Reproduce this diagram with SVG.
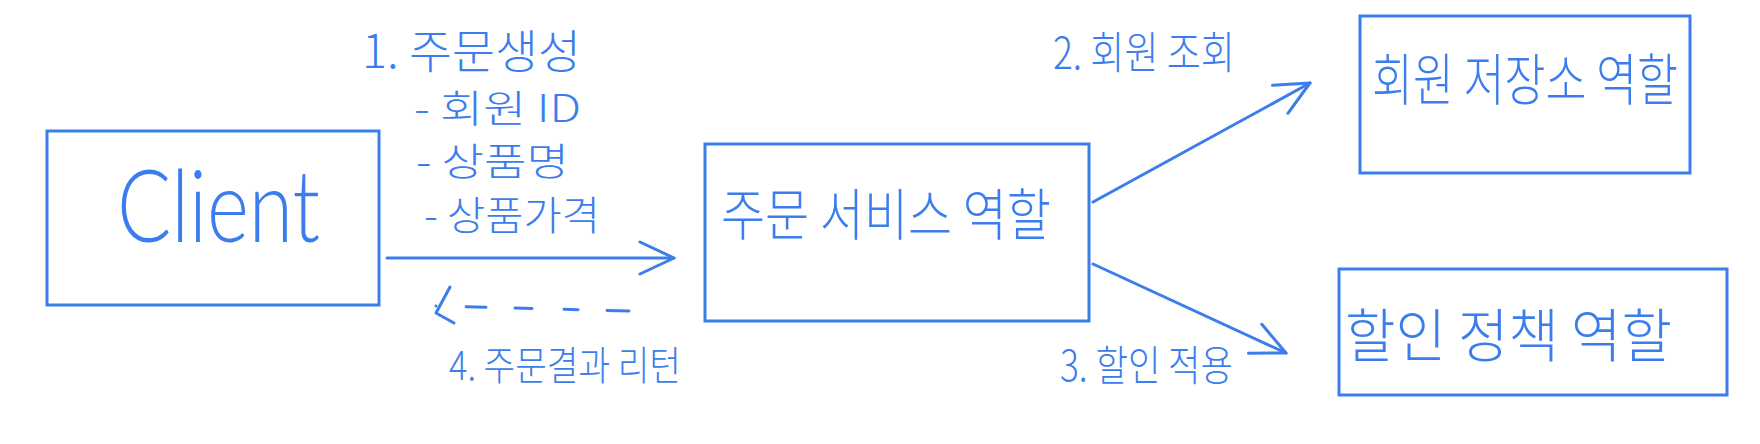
<svg xmlns="http://www.w3.org/2000/svg" width="1760" height="444" viewBox="0 0 1760 444">
<style>
.box{fill:none;stroke:#3b7ded;stroke-width:3}
.ln{fill:none;stroke:#3b7ded;stroke-width:3;stroke-linecap:round;stroke-linejoin:round}
.t{fill:#3b7ded;font-family:"Noto Sans CJK KR","Noto Sans",sans-serif;font-weight:300}
.c{fill:#3b7ded;font-family:"Lato","Open Sans","Liberation Sans",sans-serif;font-weight:300}
</style>
<defs>
<marker id="open" markerUnits="userSpaceOnUse" markerWidth="50" markerHeight="50" viewBox="-45 -25 50 50" refX="0" refY="0" orient="auto" overflow="visible">
<path d="M-34,-16 L0,0 L-34,16" fill="none" stroke="#3b7ded" stroke-width="3" stroke-linecap="round" stroke-linejoin="round"/>
</marker>
</defs>
<rect width="1760" height="444" fill="#ffffff"/>
<g id="client">
<rect class="box" x="47" y="131" width="332" height="174"/>
<text class="c" x="117" y="242" font-size="100" textLength="203" lengthAdjust="spacingAndGlyphs">Client</text>
</g>
<g id="order-service">
<rect class="box" x="705" y="144" width="384" height="177"/>
<text class="t" x="721" y="235" font-size="56" textLength="330" lengthAdjust="spacingAndGlyphs">주문 서비스 역할</text>
</g>
<g id="member-repo">
<rect class="box" x="1360" y="16" width="330" height="157"/>
<text class="t" x="1372" y="100" font-size="56" textLength="306" lengthAdjust="spacingAndGlyphs">회원 저장소 역할</text>
</g>
<g id="discount-policy">
<rect class="box" x="1339" y="269" width="388" height="126"/>
<text class="t" x="1345" y="357" font-size="58" textLength="327" lengthAdjust="spacingAndGlyphs">할인 정책 역할</text>
</g>
<g id="connectors">
<path class="ln" d="M387,258 L674,258" marker-end="url(#open)"/>
<path class="ln" d="M629,311 L436,306" stroke-dasharray="22 29 14 32 17 29 20 30"/>
<path class="ln" d="M450,287 L436,313 L454,323"/>
<path class="ln" d="M1093,202 L1310,83" marker-end="url(#open)"/>
<path class="ln" d="M1093,264 L1286,353" marker-end="url(#open)"/>
</g>
<g id="labels">
<text class="t" x="362" y="68" font-size="46" textLength="219" lengthAdjust="spacingAndGlyphs">1. 주문생성</text>
<text class="t" x="414" y="122" font-size="38" textLength="167" lengthAdjust="spacingAndGlyphs">- 회원 ID</text>
<text class="t" x="416" y="175" font-size="38" textLength="153" lengthAdjust="spacingAndGlyphs">- 상품명</text>
<text class="t" x="424" y="230" font-size="40" textLength="176" lengthAdjust="spacingAndGlyphs">- 상품가격</text>
<text class="t" x="449" y="380" font-size="40" textLength="232" lengthAdjust="spacingAndGlyphs">4. 주문결과 리턴</text>
<text class="t" x="1053" y="69" font-size="44" textLength="182" lengthAdjust="spacingAndGlyphs">2. 회원 조회</text>
<text class="t" x="1060" y="381" font-size="42" textLength="173" lengthAdjust="spacingAndGlyphs">3. 할인 적용</text>
</g>
</svg>
